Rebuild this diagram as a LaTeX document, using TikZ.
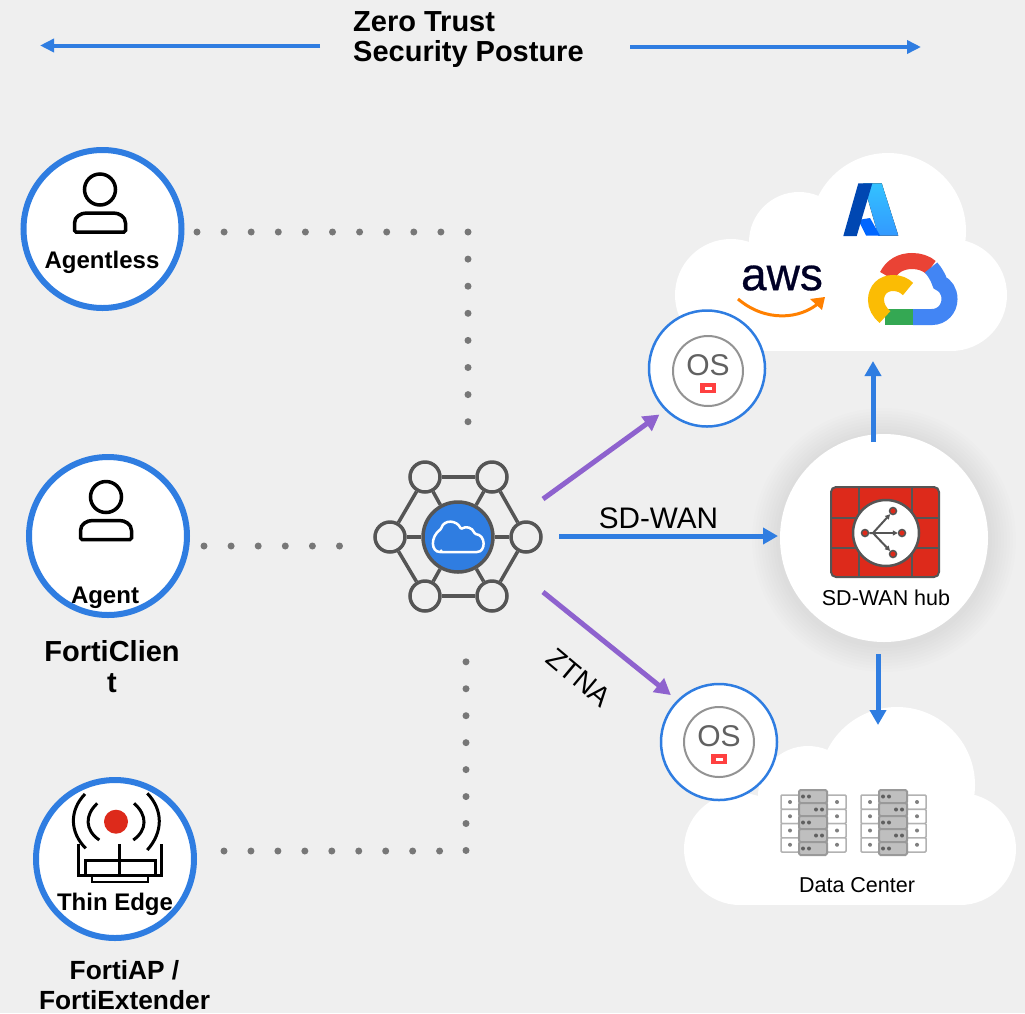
\documentclass[tikz,border=0pt]{standalone}
\usepackage{fontspec}
\setmainfont{Liberation Sans}
\usetikzlibrary{arrows.meta}
\definecolor{bgcol}{HTML}{EFEFEF}
\definecolor{wanblue}{HTML}{2F7DE1}
\definecolor{ztnapurple}{HTML}{8E62CE}
\definecolor{meshgray}{HTML}{555555}
\definecolor{fwred}{HTML}{DD2A1B}
\definecolor{dotgray}{HTML}{777777}
\begin{document}
\begin{tikzpicture}[x=1pt,y=-1pt]
  \tikzset{endpoint/.style = {shape=circle,draw=wanblue,fill=white,line width=6pt,minimum size=158pt,inner sep=0pt}}
  \tikzset{osnode/.style = {shape=circle,draw=wanblue,fill=white,line width=2.5pt,minimum size=116pt,inner sep=0pt}}
  \tikzset{meshnode/.style = {shape=circle,draw=meshgray,fill=bgcol,line width=3.5pt,minimum size=30pt,inner sep=0pt}}
  \tikzset{meshedge/.style = {draw=meshgray,line width=3.5pt}}
  \tikzset{bluearrow/.style = {draw=wanblue,line width=5pt,-{Triangle[length=15pt,width=16pt]}}}
  \tikzset{toparrow/.style = {draw=wanblue,line width=4pt,-{Triangle[length=14pt,width=13pt]}}}
  \tikzset{purplearrow/.style = {draw=ztnapurple,line width=5pt,-{Triangle[length=16pt,width=17pt]}}}
  \tikzset{dotline/.style = {draw=dotgray,line width=7pt,line cap=round,dash pattern=on 0pt off 27.1pt}}
  \tikzset{boldlabel/.style = {font=\bfseries\fontsize{24}{24}\selectfont,inner sep=0pt}}
  \tikzset{biglabel/.style = {font=\bfseries\fontsize{26.3}{30}\selectfont,align=center,inner sep=0pt}}
  \tikzset{plainlabel/.style = {font=\fontsize{21.5}{24}\selectfont,inner sep=0pt}}
  \tikzset{wanlabel/.style = {font=\fontsize{29.7}{30}\selectfont,inner sep=0pt}}
  \tikzset{cloudshape/.pic = {
	\fill[white] (0,-56) circle (56);
	\fill[white] (68,-109) circle (50);
	\fill[white] (157,-120) circle (78);
	\fill[white] (220,-56) circle (56);
	\fill[white] (0,-70) rectangle (220,0);
  }}
  \tikzset{personicon/.pic = {
	\draw[black,line width=3.5pt] (0,0) circle (15.5);
	\draw[black,line width=3.5pt,rounded corners=1.5pt] (-25.5,42.5) -- (-25.5,35) .. controls (-25.5,27) and (-19,23.5) .. (-12,23.5) -- (12,23.5) .. controls (19,23.5) and (25.5,27) .. (25.5,35) -- (25.5,42.5) -- cycle;
  }}
  \tikzset{osicon/.pic = {
	\draw[gray!85,line width=2pt] (0,1) circle (35);
	\node[text=black!62,font=\fontsize{30}{30}\selectfont,inner sep=0pt] (ostext) at (0,-5) {OS};
	\fill[red!75!white] (-8,13) rectangle (8,23);
	\fill[white] (-3.5,16.5) rectangle (3.5,19.5);
  }}
  \tikzset{serverrack/.pic = {
	\foreach \i in {0,1,2,3} {
		\draw[gray!60,fill=white,line width=1.5pt,rounded corners=1pt] (-32,-27+14.25*\i) rectangle (-14,-27+14.25*\i+14.25);
		\draw[gray!60,fill=white,line width=1.5pt,rounded corners=1pt] (14,-27+14.25*\i) rectangle (33,-27+14.25*\i+14.25);
		\fill[gray] (-23,-20+14.25*\i) circle (2);
		\fill[gray] (24,-20+14.25*\i) circle (2);
	}
	\foreach \i in {0,1,2,3,4} {
		\draw[gray!80,fill=gray!50,line width=2pt,rounded corners=1.5pt] (-14,-32+13*\i) rectangle (14,-32+13*\i+13);
	}
	\foreach \i in {0,2,4} {
		\fill[gray!75!black] (-10,-25.5+13*\i) circle (2);
		\fill[gray!75!black] (-4,-25.5+13*\i) circle (2);
	}
	\foreach \i in {1,3} {
		\fill[gray!75!black] (3,-25.5+13*\i) circle (2);
		\fill[gray!75!black] (9,-25.5+13*\i) circle (2);
	}
  }}

	\fill[bgcol] (0,0) rectangle (1025,1013);

	% title
	\node[font=\bfseries\fontsize{29}{30}\selectfont,align=left,anchor=west,inner sep=0pt] (title) at (353,40) {Zero Trust\\Security Posture};
	\coordinate (titleleft) at (320,45.5);
	\coordinate (leftend) at (40,45.5);
	\coordinate (titleright) at (630,47);
	\coordinate (rightend) at (921,47);
	\draw[toparrow] (titleleft) -- (leftend);
	\draw[toparrow] (titleright) -- (rightend);

	% clouds
	\pic at (731,351) {cloudshape};
	\pic at (740,905) {cloudshape};

	% left side
	\node[endpoint] (agentless) at (102.5,229) {};
	\node[endpoint] (agent) at (108,536) {};
	\node[endpoint] (thinedge) at (115,859) {};
	\pic at (100,189.5) {personicon};
	\pic at (106,497) {personicon};
	\node[boldlabel] (agentlesstext) at (102,262) {Agentless};
	\node[boldlabel] (agenttext) at (105,598) {Agent};
	\node[boldlabel] (thinedgetext) at (115,904) {Thin Edge};
	\node[font=\bfseries\fontsize{29}{31}\selectfont,align=center,inner sep=0pt] (forticlient) at (112,667) {FortiClien\\t};
	\node[biglabel] (fortiap) at (124.5,985) {FortiAP /\\FortiExtender};

	% access point drawing
	\fill[fwred] (116,821.7) circle (12);
	\draw[black,line width=3pt] (97.3,803.3) .. controls (84.7,815) and (84.7,830) .. (99.3,840);
	\draw[black,line width=3pt] (85,794) .. controls (69.4,810) and (69.4,832) .. (85.7,848.3);
	\draw[black,line width=3pt] (134,803.3) .. controls (147.5,815) and (147.5,830) .. (133.3,840);
	\draw[black,line width=3pt] (147.3,793.3) .. controls (163.3,810) and (163.3,832) .. (147.3,850);
	\draw[black,line width=3pt] (78.3,844) -- (78.3,875) -- (161.7,875) -- (161.7,844);
	\draw[black,line width=3pt] (85.7,875) -- (85.7,860) -- (155,860) -- (155,875);
	\draw[black,line width=3pt] (119.3,844) -- (119.3,875);
	\draw[black,line width=2pt] (91.7,875) -- (91.7,881.7) -- (148.3,881.7) -- (148.3,875);

	% dotted links
	\coordinate (dotastart) at (197,232);
	\coordinate (dotacorner) at (468,232);
	\coordinate (dotaend) at (468,422);
	\coordinate (dotbstart) at (204,546);
	\coordinate (dotbend) at (340,546);
	\coordinate (dotcstart) at (224,851);
	\coordinate (dotccorner) at (466,851);
	\coordinate (dotcend) at (466,661);
	\draw[dotline] (dotastart) -- (dotacorner) -- (dotaend);
	\draw[dotline] (dotbstart) -- (dotbend);
	\draw[dotline,dash pattern=on 0pt off 26.95pt] (dotcstart) -- (dotccorner) -- (dotcend);

	% mesh
	\node[meshnode] (ma) at (425,477) {};
	\node[meshnode] (mb) at (492,477) {};
	\node[meshnode] (mc) at (390,537) {};
	\node[meshnode] (md) at (526,537) {};
	\node[meshnode] (me) at (425,596) {};
	\node[meshnode] (mf) at (492,596) {};
	\node[shape=circle,draw=meshgray,fill=wanblue,line width=3.5pt,minimum size=70pt,inner sep=0pt] (mesh) at (458,537) {};
	\path[meshedge] (ma) edge (mb);
	\path[meshedge] (mb) edge (md);
	\path[meshedge] (md) edge (mf);
	\path[meshedge] (mf) edge (me);
	\path[meshedge] (me) edge (mc);
	\path[meshedge] (mc) edge (ma);
	\path[meshedge] (mesh) edge (ma);
	\path[meshedge] (mesh) edge (mb);
	\path[meshedge] (mesh) edge (mc);
	\path[meshedge] (mesh) edge (md);
	\path[meshedge] (mesh) edge (me);
	\path[meshedge] (mesh) edge (mf);
	\draw[white,line width=2.5pt,rounded corners=1pt] (441,552) -- (476,552) .. controls (486,552) and (486,535) .. (475,534) .. controls (472,527) and (466,526) .. (461,529) .. controls (457,520) and (444,519) .. (441,529) .. controls (430,537) and (431,552) .. (441,552) -- cycle;

	% hub
	\foreach \r in {132,129,126,123,120,117,114,111,108} {
		\fill[black,opacity=0.007] (884,540) circle (\r);
	}
	\node[shape=circle,fill=white,minimum size=208pt,inner sep=0pt] (hub) at (884,538) {};
	\fill[fwred,draw=meshgray,line width=2pt,rounded corners=5pt] (831,487) rectangle (939,577);
	\draw[meshgray,line width=2pt] (859,487) -- (859,577);
	\draw[meshgray,line width=2pt] (912,487) -- (912,577);
	\draw[meshgray,line width=2pt] (831,518) -- (939,518);
	\draw[meshgray,line width=2pt] (831,548) -- (939,548);
	\node[shape=circle,draw=meshgray,fill=white,line width=2.5pt,minimum size=66pt,inner sep=0pt] (fwcircle) at (886,533) {};
	\node[shape=circle,draw=meshgray,fill=fwred,line width=1.5pt,minimum size=7pt,inner sep=0pt] (fwa) at (893,511) {};
	\node[shape=circle,draw=meshgray,fill=fwred,line width=1.5pt,minimum size=7pt,inner sep=0pt] (fwb) at (893,554) {};
	\node[shape=circle,draw=meshgray,fill=fwred,line width=1.5pt,minimum size=7pt,inner sep=0pt] (fwc) at (865,533) {};
	\node[shape=circle,draw=meshgray,fill=fwred,line width=1.5pt,minimum size=7pt,inner sep=0pt] (fwd) at (902,533) {};
	\draw[meshgray,line width=2pt,-{Triangle[length=5pt,width=5pt]}] (fwc) -- (873,533) -- (fwa);
	\draw[meshgray,line width=2pt,-{Triangle[length=5pt,width=5pt]}] (873,533) -- (fwb);
	\draw[meshgray,line width=2pt,-{Triangle[length=5pt,width=5pt]}] (873,533) -- (fwd);
	\node[plainlabel] (hubtext) at (886,598) {SD-WAN hub};

	% os nodes
	\node[osnode] (ossite) at (707,368.5) {};
	\node[osnode] (osdc) at (719,742) {};
	\pic at (708,370) {osicon};
	\pic at (719,741) {osicon};

	% arrows
	\coordinate (ztnaa) at (543,499);
	\coordinate (ztnab) at (543,592);
	\coordinate (wanstart) at (559,536);
	\coordinate (wanend) at (778,536);
	\coordinate (hubtop) at (873,442);
	\coordinate (cloudbottom) at (873,361);
	\coordinate (hubbottom) at (878,654);
	\coordinate (dctop) at (878,725);
	\draw[purplearrow,shorten >=7pt] (ztnaa) -- (ossite.225);
	\draw[purplearrow,shorten >=8pt] (ztnab) -- (osdc.135);
	\draw[bluearrow] (wanstart) -- (wanend);
	\draw[bluearrow] (hubtop) -- (cloudbottom);
	\draw[bluearrow] (hubbottom) -- (dctop);
	\node[wanlabel] (wantext) at (658.5,518) {SD-WAN};
	\node[wanlabel,font=\fontsize{28}{30}\selectfont,rotate=-40] (ztnatext) at (579,678) {ZTNA};

	% azure
	\fill[top color=cyan!70!blue!80,bottom color=blue!50!cyan!80] (863.3,183.3) -- (881.7,183.3) -- (898.3,235.5) -- (878.3,235.5) -- cycle;
	\fill[blue!60!cyan] (858.3,220) -- (870,218) -- (880,235.5) -- (866,235.5) -- cycle;
	\fill[blue!60!cyan!70!black] (858.3,183.3) -- (872.3,183.3) -- (856.7,236) -- (843.3,236) -- cycle;

	% aws
	\node[text=black!85!blue,font=\fontsize{46}{46}\selectfont\addfontfeature{FakeBold=0.6},inner sep=0pt] (awstext) at (782,278) {aws};
	\draw[orange,line width=3pt] (738,299) .. controls (765,322) and (800,320) .. (820,302);
	\fill[orange] (810,299) -- (825,297) -- (822,310) -- cycle;

	% google cloud
	\definecolor{gred}{HTML}{EA4335}
	\definecolor{gblue}{HTML}{4285F4}
	\definecolor{gyellow}{HTML}{FBBC04}
	\definecolor{ggreen}{HTML}{34A853}
	\draw[gred,line width=16pt] (887,276) .. controls (892,266) and (901,261) .. (912,261) .. controls (919,261) and (926,263) .. (931,267.5);
	\draw[gblue,line width=16pt] (913,317) -- (932,317) .. controls (942,317) and (949.5,309) .. (949.5,299) .. controls (949.5,291) and (945,285) .. (940,283) .. controls (938,277) and (935,272) .. (931,267.5);
	\draw[ggreen,line width=16pt] (885,317) -- (913,317);
	\draw[gyellow,line width=16pt] (908,289) .. controls (904,285) and (899,283) .. (893,283) .. controls (883,283) and (876,290) .. (876,300) .. controls (876,306) and (879,312) .. (885,317);

	% data center
	\pic at (813,822) {serverrack};
	\pic at (893,822) {serverrack};
	\node[plainlabel] (dctext) at (857,885) {Data Center};

\end{tikzpicture}
\end{document}
